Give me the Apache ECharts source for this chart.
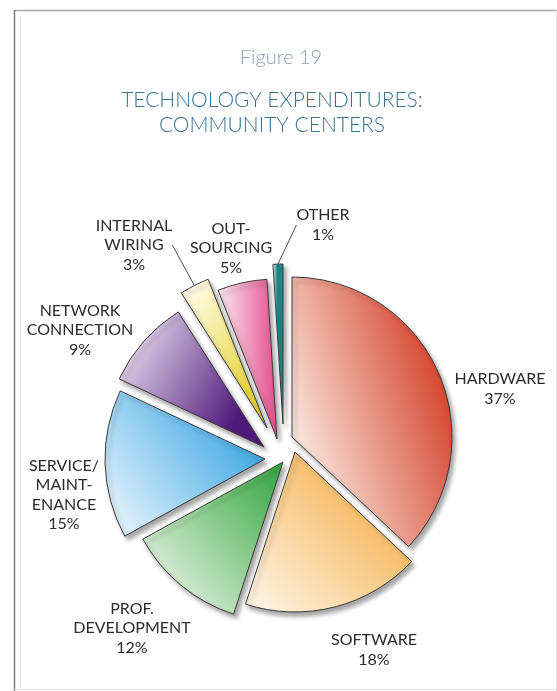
<!DOCTYPE html>
<html>
<head>
<meta charset="utf-8">
<script src="https://cdn.jsdelivr.net/npm/echarts@6/dist/echarts.min.js"></script>
<style>
  html, body { margin: 0; padding: 0; background: #ffffff; }
  #chart { width: 557px; height: 691px; }
</style>
</head>
<body>
<div id="chart"></div>
<script>
// Spending categories, clockwise from 12 o'clock
const categories = [
  'HARDWARE',
  'SOFTWARE',
  'PROF.\nDEVELOPMENT',
  'SERVICE/\nMAINT-\nENANCE',
  'NETWORK\nCONNECTION',
  'INTERNAL\nWIRING',
  'OUT-\nSOURCING',
  'OTHER'
];
// Share of technology spending, percent
const shares = [37, 18, 12, 15, 9, 3, 5, 1];

// Light and saturated ends of each wedge's gradient
const paleColors = ['#fbe9e0', '#fff7ec', '#f4f9ef', '#f3f9fe', '#efe3f3', '#fffbe2', '#fdeaf1', '#f4fbfb'];
const deepColors = ['#d43f28', '#f2a12a', '#3aa845', '#2a9fe2', '#4f1a7c', '#e6d43a', '#e24e8c', '#1d8b89'];
// Where the saturated colour is reached along the gradient
const deepStops = [1, 1, 1, 1, 0.85, 1, 1, 0.45];
// Gradient direction per wedge: [x, y, x2, y2] within the wedge's bounding box
const gradientDirs = [
  [0, 0.6, 1, 0.4],
  [0, 1, 1, 0],
  [0, 0.9, 1, 0.1],
  [0, 1, 1, 0.2],
  [0, 0.2, 1, 0.8],
  [0, 0.2, 1, 0.6],
  [0, 0.5, 1, 0.5],
  [0, 0.5, 1, 0.5]
];

// Each wedge is pulled away from the hub by its own amount
const sliceCenters = [
  [292, 437], [295, 452], [283, 462], [265, 459],
  [264, 447], [267, 428], [277, 439], [283, 424]
];
const RADIUS = 160;
// Where each category caption sits
const labelAnchors = [
  [500, 389], [374, 650], [132, 628], [64, 495],
  [80, 330], [134, 245], [231, 248], [323, 225]
];
// Captions tied to their wedge with a short leader line
const withLeader = [false, false, false, false, false, true, false, true];

const chart = echarts.init(document.getElementById('chart'), null, { renderer: 'canvas' });

const series = categories.map((_, k) => ({
  type: 'pie',
  center: sliceCenters[k],
  radius: [0, RADIUS],
  startAngle: 90,
  clockwise: true,
  silent: true,
  animation: false,
  avoidLabelOverlap: false,
  z: 2,
  labelLayout: {
    x: labelAnchors[k][0],
    y: labelAnchors[k][1],
    align: 'center',
    verticalAlign: 'middle',
    hideOverlap: false
  },
  emphasis: { disabled: true },
  data: categories.map((name, j) => {
    const own = j === k;
    if (!own) {
      return {
        name, value: shares[j],
        itemStyle: { color: 'rgba(0,0,0,0)', borderWidth: 0, opacity: 0 },
        label: { show: false },
        labelLine: { show: false }
      };
    }
    const g = gradientDirs[j];
    return {
      name, value: shares[j],
      itemStyle: {
        color: new echarts.graphic.LinearGradient(g[0], g[1], g[2], g[3], [
          { offset: 0, color: paleColors[j] },
          { offset: deepStops[j], color: deepColors[j] },
          { offset: 1, color: deepColors[j] }
        ]),
        borderColor: '#3a3a3a',
        borderWidth: 1,
        shadowColor: 'rgba(0,0,0,0.35)',
        shadowBlur: 4,
        shadowOffsetX: 3,
        shadowOffsetY: 4
      },
      label: {
        show: true,
        position: 'outside',
        formatter: p => p.name + '\n' + p.value + '%',
        fontFamily: 'Lato',
        fontSize: 16,
        lineHeight: 19.5,
        color: '#2b2b2b',
        align: 'center'
      },
      labelLine: withLeader[j]
        ? { show: true, length: 10, length2: 0, smooth: false, lineStyle: { color: '#4a4a4a', width: 1 } }
        : { show: false }
    };
  })
}));

chart.setOption({
  backgroundColor: '#ffffff',
  animation: false,
  graphic: [
    // page frame
    { type: 'line', silent: true, shape: { x1: 14, y1: 10.5, x2: 557, y2: 10.5 }, style: { stroke: '#a8a8a8', lineWidth: 1.5 } },
    { type: 'line', silent: true, shape: { x1: 14.5, y1: 10, x2: 14.5, y2: 691 }, style: { stroke: '#7c7c7c', lineWidth: 1.5 } },
    { type: 'line', silent: true, shape: { x1: 20.5, y1: 14, x2: 20.5, y2: 688 }, style: { stroke: '#ececec', lineWidth: 1 } },
    { type: 'line', silent: true, shape: { x1: 14, y1: 689.5, x2: 557, y2: 689.5 }, style: { stroke: '#e4e4e4', lineWidth: 1 } },
    { type: 'line', silent: true, shape: { x1: 556.5, y1: 10, x2: 556.5, y2: 691 }, style: { stroke: '#e0e0e0', lineWidth: 1 } },
    // headings
    {
      type: 'text', silent: true, x: 281, y: 58,
      style: { text: 'Figure 19', align: 'center', verticalAlign: 'middle', fontFamily: 'Lato', fontWeight: 300, fontSize: 20, fill: '#8aa0ae' }
    },
    {
      type: 'text', silent: true, x: 272, y: 100,
      style: { text: 'TECHNOLOGY EXPENDITURES:', align: 'center', verticalAlign: 'middle', fontFamily: 'Lato', fontWeight: 300, fontSize: 21, fill: '#3c7391' }
    },
    {
      type: 'text', silent: true, x: 272, y: 125,
      style: { text: 'COMMUNITY CENTERS', align: 'center', verticalAlign: 'middle', fontFamily: 'Lato', fontWeight: 300, fontSize: 21, fill: '#3c7391' }
    }
  ],
  series
});
</script>
</body>
</html>
